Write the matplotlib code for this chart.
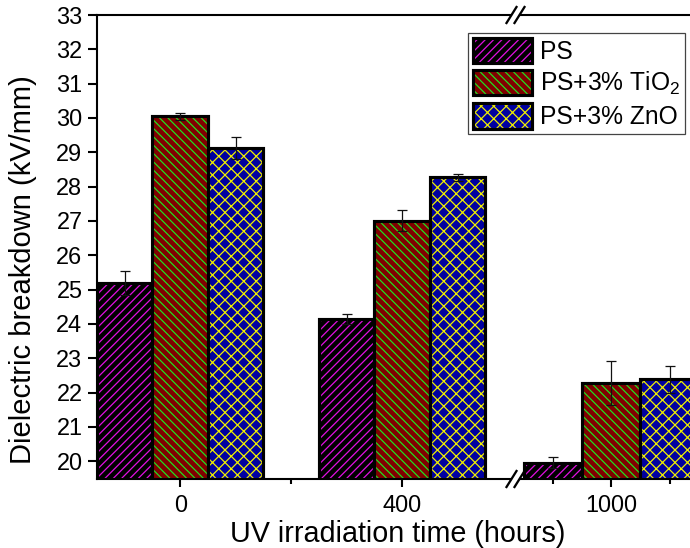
import numpy as np
import matplotlib.pyplot as plt
from matplotlib.legend_handler import HandlerTuple
from matplotlib.lines import Line2D

plt.rcParams['font.family'] = ['Liberation Sans', 'DejaVu Sans']
plt.rcParams['mathtext.fontset'] = 'custom'
plt.rcParams['mathtext.rm'] = 'Liberation Sans'
plt.rcParams['hatch.linewidth'] = 0.6

# data
hours = [0, 400, 1000]
labels = ['PS', 'PS+3% TiO$_2$', 'PS+3% ZnO']
ps_mean = [25.2, 24.14, 19.96]
ps_err = [0.35, 0.14, 0.17]
tio2_mean = [30.05, 27.01, 22.29]
tio2_err = [0.10, 0.31, 0.64]
zno_mean = [29.12, 28.27, 22.38]
zno_err = [0.32, 0.10, 0.39]

W, H, DPI = 690, 548, 150
fig = plt.figure(figsize=(W / DPI, H / DPI), dpi=DPI)

# pixel layout
left, gap_l, gap_r, top, bottom = 97, 511, 520, 15, 479
fb = (H - bottom) / H
fh = (bottom - top) / H
ax1 = fig.add_axes([left / W, fb, (gap_l - left) / W, fh])
ax2 = fig.add_axes([gap_r / W, fb, (W - gap_r) / W, fh])

series = [
    (ps_mean, ps_err, 'black', '#e010e0', '//////'),
    (tio2_mean, tio2_err, '#800000', '#20e020', '\\\\\\\\\\\\'),
    (zno_mean, zno_err, '#0000a0', '#f0f000', 'xxxx'),
]

handles = []
for ax in (ax1, ax2):
    for k, (m, e, face, hc, hatch) in enumerate(series):
        x = np.array(hours) + (k - 1) * 100
        hb = ax.bar(x, m, width=100, color=face, edgecolor=hc, hatch=hatch, linewidth=0)
        ob = ax.bar(x, m, width=100, fill=False, edgecolor='black', linewidth=1.5)
        ax.errorbar(x, m, yerr=e, fmt='none', ecolor='#111111', elinewidth=0.6,
                    capsize=2.6, capthick=0.6, zorder=3)
        if ax is ax1:
            handles.append((hb, ob))

ax1.set_xlim(-150, 596)
ax2.set_xlim(844, 1135)
for ax in (ax1, ax2):
    ax.set_ylim(19.48, 33)
    for s in ax.spines.values():
        s.set_linewidth(1.0)
    ax.spines['right'].set_visible(False)
    ax.tick_params(axis='x', which='major', direction='out', length=3.8, width=1.0,
                   labelsize=11.3, pad=4)
    ax.tick_params(axis='x', which='minor', direction='out', length=2.4, width=1.0)

ax1.set_xticks([0, 400])
ax1.set_xticks([200], minor=True)
ax2.set_xticks([1000])
ax2.set_xticks([900, 1100], minor=True)
ax2.spines['left'].set_visible(False)
ax2.tick_params(axis='y', left=False, labelleft=False)

ax1.set_yticks(np.arange(20, 34, 1))
ax1.tick_params(axis='y', direction='out', length=4.2, width=1.0, labelsize=11.3, pad=2.8)

fig.text(23 / W, 1 - 270 / H, 'Dielectric breakdown (kV/mm)', fontsize=14,
         rotation=90, ha='center', va='center')
fig.text(398 / W, 14 / H, 'UV irradiation time (hours)',
         fontsize=13.8, ha='center', va='center')

# break marks
def brk(xc, yc):
    for dx in (-4, 4):
        xs = [(xc + dx - 5) / W, (xc + dx + 5) / W]
        ys = [(H - yc - 8) / H, (H - yc + 8) / H]
        fig.add_artist(Line2D(xs, ys, color='black', linewidth=1.1))

brk((gap_l + gap_r) / 2, top)
brk((gap_l + gap_r) / 2, bottom)

fig.legend(handles, labels, handler_map={tuple: HandlerTuple(ndivide=1, pad=0)},
           loc='upper right', bbox_to_anchor=(685 / W, (H - 33) / H),
           bbox_transform=fig.transFigure, fontsize=11.8, frameon=True, fancybox=False,
           framealpha=1, edgecolor='#444444', borderpad=0.2, labelspacing=0.25,
           handlelength=2.4, handleheight=1.2, handletextpad=0.3, borderaxespad=0)
fig.legends[0].get_frame().set_linewidth(0.6)

fig.savefig('out.png', dpi=DPI)
